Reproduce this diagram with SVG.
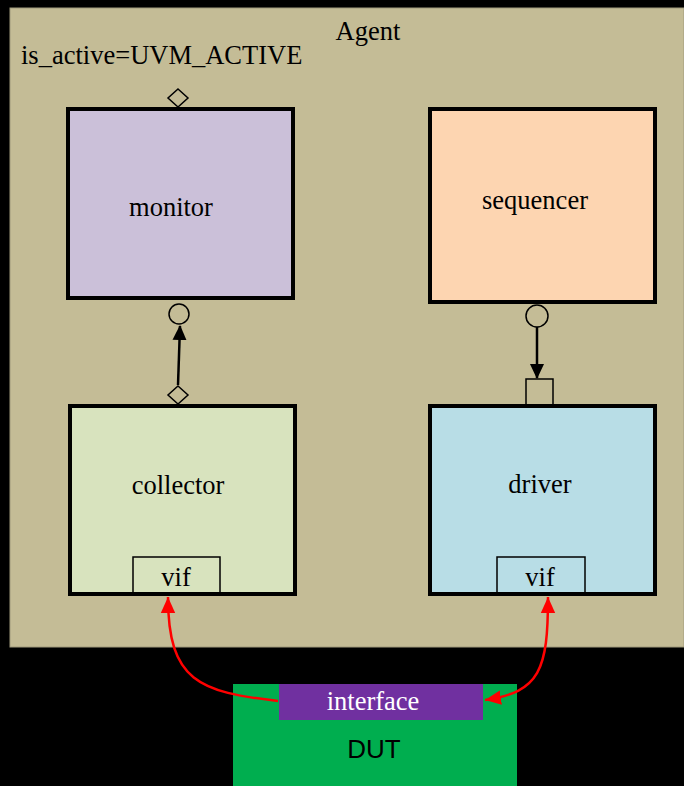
<svg xmlns="http://www.w3.org/2000/svg" width="684" height="786" viewBox="0 0 684 786">
  <defs>
    <style>
      .serif { font-family: "Liberation Serif", "Times New Roman", serif; fill: #000; }
      .lbl { font-size: 26.5px; text-anchor: middle; }
      .box { stroke: #000; stroke-width: 4; }
      .port { stroke: #000; stroke-width: 1.5; }
      .conn { fill: none; stroke: #000; stroke-width: 2.5; }
      .red { fill: none; stroke: #ff0000; stroke-width: 2.5; }
    </style>
    <marker id="blackArrow" viewBox="0 0 15 15" refX="14" refY="7.5" markerWidth="15" markerHeight="15" markerUnits="userSpaceOnUse" orient="auto">
      <path d="M0,0.5 L15,7.5 L0,14.5 z" fill="#000"/>
    </marker>
    <marker id="redArrow" viewBox="0 0 10 10" refX="10" refY="5" markerWidth="16" markerHeight="16" markerUnits="userSpaceOnUse" orient="auto-start-reverse">
      <path d="M0,0.5 L10,5 L0,9.5 z" fill="#ff0000"/>
    </marker>
  </defs>

  <!-- page background -->
  <rect x="0" y="0" width="684" height="786" fill="#000"/>

  <!-- agent container -->
  <g id="agent">
    <rect x="10" y="8" width="674" height="639" fill="#c4bc96" stroke="#a09a7c" stroke-width="1"/>
    <text class="serif lbl" x="368" y="40">Agent</text>
    <text class="serif" x="21" y="64" font-size="26.5">is_active=UVM_ACTIVE</text>
  </g>

  <g id="monitor">
    <rect class="box" x="68" y="109" width="225" height="189" fill="#cbc0d9"/>
    <text class="serif lbl" x="171" y="216">monitor</text>
    <polygon class="port" points="178,89 188,98 178,107 168,98" fill="none"/>
    <circle class="port" cx="179" cy="314" r="10" fill="none"/>
  </g>

  <g id="sequencer">
    <rect class="box" x="430" y="109" width="225" height="193" fill="#fdd5b1"/>
    <text class="serif lbl" x="535" y="209">sequencer</text>
    <circle class="port" cx="537" cy="316" r="11" fill="none"/>
  </g>

  <g id="collector">
    <rect class="box" x="70" y="406" width="225" height="188" fill="#d8e3be"/>
    <text class="serif lbl" x="178" y="494">collector</text>
    <polygon class="port" points="178,386 188,395 178,404 168,395" fill="none"/>
    <rect class="port" x="133" y="557" width="87" height="36" fill="none"/>
    <text class="serif lbl" x="176" y="586">vif</text>
  </g>

  <g id="driver">
    <rect class="box" x="430" y="406" width="225" height="188" fill="#b8dde6"/>
    <text class="serif lbl" x="540" y="493">driver</text>
    <rect class="port" x="526" y="379" width="27" height="26" fill="none"/>
    <rect class="port" x="497" y="557" width="88" height="36" fill="none"/>
    <text class="serif lbl" x="540" y="586">vif</text>
  </g>

  <g id="dut">
    <rect x="233" y="684" width="284" height="102" fill="#00ae4f"/>
    <text x="374" y="758" font-family="Liberation Sans, Arial, sans-serif" font-size="26" text-anchor="middle" fill="#000">DUT</text>
  </g>

  <g id="interface">
    <rect x="279" y="684" width="204" height="36" fill="#7030a0"/>
    <text class="lbl" x="373" y="710" font-family="Liberation Serif, 'Times New Roman', serif" fill="#fff">interface</text>
  </g>

  <!-- connectors -->
  <g id="connectors">
    <line class="conn" x1="178" y1="385" x2="180" y2="326" marker-end="url(#blackArrow)"/>
    <line class="conn" x1="537" y1="327" x2="537" y2="378" marker-end="url(#blackArrow)"/>
    <path class="red" d="M278,701 C200,692 168,682 168,597" marker-end="url(#redArrow)"/>
    <path class="red" d="M485,700 C540,692 548,670 548,597" marker-start="url(#redArrow)" marker-end="url(#redArrow)"/>
  </g>
</svg>
